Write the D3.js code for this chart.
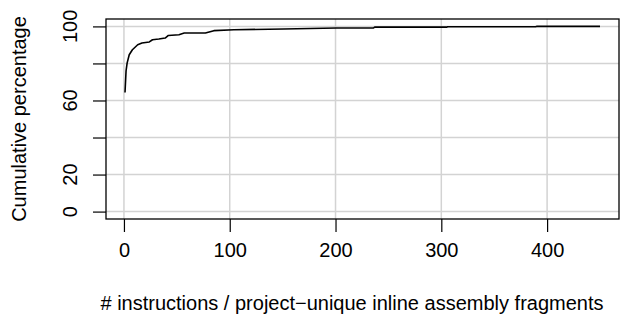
<!DOCTYPE html>
<html>
<head>
<meta charset="utf-8">
<script src="https://cdn.jsdelivr.net/npm/d3@7"></script>
<style>
  body { margin: 0; background: #fff; }
  text { font-family: "Liberation Sans", Arial, sans-serif; fill: #000; }
</style>
</head>
<body>
<div id="plot"></div>
<script>
// data
const instructions = [1, 2, 3, 5, 8, 13, 17, 24, 27, 33, 39, 42, 52, 57, 77, 85, 104, 151, 201, 236, 237, 305, 306, 389, 390, 450];
const cumulative   = [64.3, 76, 80.2, 84.7, 87.4, 90.1, 91, 91.6, 92.8, 93.2, 93.7, 95.1, 95.5, 96.4, 96.4, 97.7, 98.2, 98.6, 99.1, 99.2, 99.6, 99.6, 99.8, 99.8, 100, 100];
const xTicks = [0, 100, 200, 300, 400];
const yGrid = [0, 20, 40, 60, 80, 100];
const yTicks = [0, 20, 60, 100];  // R drops the overlapping 40 and 80 labels

const width = 626, height = 317;
const margin = {top: 19, right: 7, bottom: 98, left: 106};
const fontSize = 20;

const svg = d3.select("div#plot")
  .append("svg")
  .attr("width", width)
  .attr("height", height);

svg.append("rect").attr("width", width).attr("height", height).attr("fill", "#fff");

// R style 4% padding on each side
const xr = d3.extent(instructions);
const xpad = (xr[1] - xr[0]) * 0.04;
const x = d3.scaleLinear()
  .domain([xr[0] - xpad, xr[1] + xpad])
  .range([margin.left, width - margin.right]);

const y = d3.scaleLinear()
  .domain([-4, 104])
  .range([height - margin.bottom, margin.top]);

// grid
svg.append("g")
  .selectAll("line")
  .data(xTicks)
  .join("line")
  .attr("x1", d => x(d)).attr("x2", d => x(d))
  .attr("y1", margin.top).attr("y2", height - margin.bottom)
  .attr("stroke", "#d3d3d3").attr("stroke-width", 1.5);

svg.append("g")
  .selectAll("line")
  .data(yGrid)
  .join("line")
  .attr("x1", margin.left).attr("x2", width - margin.right)
  .attr("y1", d => y(d)).attr("y2", d => y(d))
  .attr("stroke", "#d3d3d3").attr("stroke-width", 1.5);

// the curve
const line = d3.line()
  .x((d, i) => x(instructions[i]))
  .y(d => y(d));

svg.append("path")
  .datum(cumulative)
  .attr("d", line)
  .attr("fill", "none")
  .attr("stroke", "#000")
  .attr("stroke-width", 1.6)
  .attr("stroke-linejoin", "round");

// axes
const xAxis = svg.append("g")
  .attr("transform", `translate(0,${height - margin.bottom})`)
  .call(d3.axisBottom(x).tickValues(xTicks).tickSize(13).tickPadding(11).tickFormat(d3.format("d")));
xAxis.select(".domain").remove();
xAxis.selectAll("line").attr("stroke", "#000").attr("stroke-width", 1.2);
xAxis.selectAll("text").attr("font-size", fontSize).attr("fill", "#000")
  .attr("font-family", "Liberation Sans, Arial, sans-serif");

const yAxis = svg.append("g")
  .attr("transform", `translate(${margin.left},0)`)
  .call(d3.axisLeft(y).tickValues(yGrid).tickSize(13).tickFormat(""));
yAxis.select(".domain").remove();
yAxis.selectAll("line").attr("stroke", "#000").attr("stroke-width", 1.2);

svg.append("g")
  .selectAll("text")
  .data(yTicks)
  .join("text")
  .attr("transform", d => `translate(77,${y(d)}) rotate(-90)`)
  .attr("text-anchor", "middle")
  .attr("font-size", fontSize)
  .text(d => d);

// box
svg.append("rect")
  .attr("x", margin.left).attr("y", margin.top)
  .attr("width", width - margin.left - margin.right)
  .attr("height", height - margin.top - margin.bottom)
  .attr("fill", "none").attr("stroke", "#000").attr("stroke-width", 1.3);

// titles
svg.append("text")
  .attr("x", 352)
  .attr("y", 310)
  .attr("text-anchor", "middle")
  .attr("font-size", fontSize)
  .text("# instructions / project\u2212unique inline assembly fragments");

svg.append("text")
  .attr("transform", `translate(26,${(margin.top + height - margin.bottom) / 2}) rotate(-90)`)
  .attr("text-anchor", "middle")
  .attr("font-size", fontSize)
  .text("Cumulative percentage");
</script>
</body>
</html>
